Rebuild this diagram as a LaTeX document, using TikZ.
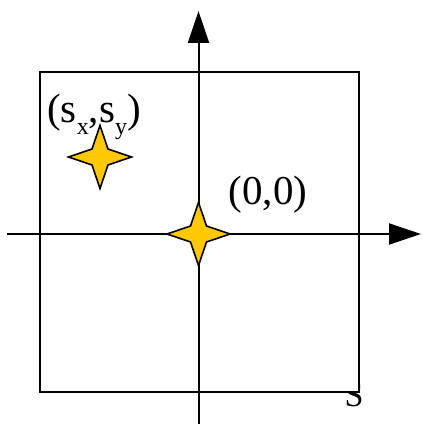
\documentclass[tikz,border=0pt]{standalone}
\usepackage{fontspec}
\setmainfont{Liberation Serif}
\usetikzlibrary{arrows.meta}
\definecolor{starfill}{HTML}{FFC800}
\newcommand{\subtxt}[1]{\raisebox{-12pt}{\fontsize{24}{24}\selectfont #1}}
\tikzset{
  axis/.style={line width=2pt,-{Triangle[length=32pt,width=21pt]}},
  frame/.style={draw=black,line width=2pt,fill=white},
  starshape/.style={draw=black,line width=1.6pt,fill=starfill,line join=miter},
  lbl/.style={inner sep=0pt,font=\fontsize{41}{41}\selectfont},
}
\newcommand{\fourstar}[3]{% center x, y, name
  \path[starshape] (#1+31.5,#2) -- (#1+8,#2+8) -- (#1,#2+31.5) -- (#1-8,#2+8)
    -- (#1-31.5,#2) -- (#1-8,#2-8) -- (#1,#2-31.5) -- (#1+8,#2-8) -- cycle;
  \coordinate (#3) at (#1,#2);}
\begin{document}
\begin{tikzpicture}[x=1pt,y=1pt]
\useasboundingbox (0,0) rectangle (423,424);
% partly hidden S label
\node[inner sep=0pt,anchor=base,font=\fontsize{34}{34}\selectfont] (slbl) at (354,17) {S};
% white square
\node[frame,minimum width=319.5pt,minimum height=320.5pt,inner sep=0pt,anchor=south west] (sq) at (38.5,30.5) {};
% axes
\coordinate (ybot) at (198.5,0);
\coordinate (ytop) at (198.5,413);
\coordinate (xl) at (7,190);
\coordinate (xr) at (421,190);
\draw[axis] (ybot) -- (ytop);
\draw[axis] (xl) -- (xr);
% stars
\fourstar{198.5}{190}{origin}
\fourstar{100}{267}{sxy}
% labels
\node[lbl] (l0) at (268,229) {(0,0)};
\node[lbl,anchor=base west] (ls) at (47,301) {(s\subtxt{x},s\subtxt{y})};
\end{tikzpicture}
\end{document}
